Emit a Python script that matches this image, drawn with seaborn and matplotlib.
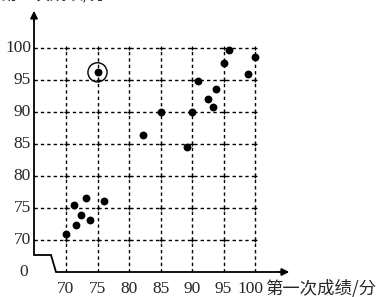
import matplotlib
matplotlib.use("Agg")
import matplotlib.pyplot as plt
import seaborn as sns
import pandas as pd
import numpy as np

first_scores = [70.0, 71.2, 71.6, 72.4, 73.1, 73.8, 76.1, 75.0, 82.2, 85.0,
                89.2, 90.0, 91.0, 92.5, 93.4, 93.8, 95.0, 95.9, 98.9, 100.0]
second_scores = [71.0, 75.5, 72.4, 73.9, 76.5, 73.2, 76.1, 96.2, 86.4, 90.0,
                 84.5, 90.0, 94.8, 92.0, 90.8, 93.6, 97.6, 99.7, 95.9, 98.6]
x_ticks = [70, 75, 80, 85, 90, 95, 100]
y_ticks = [70, 75, 80, 85, 90, 95, 100]
x_label = "第一次成绩/分"
y_label = "第二次成绩/分"
circled = (75.0, 96.2)

sns.set_theme(style="white")
plt.rcParams['font.family'] = ['Liberation Serif', 'Noto Sans CJK SC', 'DejaVu Sans']

fig = plt.figure(figsize=(3.83, 2.97), dpi=100)
ax = fig.add_axes([0, 0, 1, 1])
# data coords mapped to pixels: x px = 66 + (x-70)*6.3 ; y px = 240 - (y-70)*6.4
ax.set_xlim(70 - 66 / 6.3, 70 + 317 / 6.3)
ax.set_ylim(70 - 57 / 6.4, 70 + 240 / 6.4)
ax.axis("off")

y_axis_x = 70 - 32 / 6.3
x_axis_y = 65.0
brk_y = 70 - 15 / 6.4
brk_x = 70 - 15 / 6.3
brk_x2 = 70 - 10 / 6.3
arrow_x = 70 + 226 / 6.3
arrow_y = 70 + 232 / 6.4

# grid
for xv in x_ticks:
    ax.plot([xv, xv], [x_axis_y, 100], color="black", lw=1.0, ls=(0, (2.4, 2.2)))
for yv in y_ticks:
    ax.plot([y_axis_x, 100], [yv, yv], color="black", lw=1.0, ls=(0, (2.4, 2.2)))
gx, gy = np.meshgrid(x_ticks, y_ticks)
ax.scatter(gx.ravel(), gy.ravel(), marker="+", s=12, color="black", lw=0.9)

# broken axes
ax.plot([y_axis_x, y_axis_x, brk_x, brk_x2, arrow_x - 1.0],
        [arrow_y - 1.0, brk_y, brk_y, x_axis_y, x_axis_y], color="black", lw=1.3,
        solid_joinstyle="miter")
ax.annotate("", xy=(arrow_x, x_axis_y), xytext=(arrow_x - 2.5, x_axis_y),
            arrowprops=dict(arrowstyle="-|>", color="black", lw=1.2, mutation_scale=11))
ax.annotate("", xy=(y_axis_x, arrow_y), xytext=(y_axis_x, arrow_y - 2.5),
            arrowprops=dict(arrowstyle="-|>", color="black", lw=1.2, mutation_scale=11))

# points
df = pd.DataFrame({"first": first_scores, "second": second_scores})
sns.scatterplot(data=df, x="first", y="second", ax=ax, color="black",
                s=32, edgecolor="black", linewidth=0, legend=False)
ax.scatter([circled[0]], [circled[1]], s=190, facecolors="none",
           edgecolors="black", linewidths=1.0)

# tick labels
fs = 12.5
for yv in y_ticks:
    ax.text(70 - 35 / 6.3, yv, str(yv), ha="right", va="center", fontsize=fs)
ax.text(70 - 38 / 6.3, x_axis_y, "0", ha="right", va="center", fontsize=fs)
for xv in x_ticks:
    xp = xv - (0.7 if xv == 100 else 0)
    ax.text(xp, 70 - 49 / 6.4, str(xv), ha="center", va="center", fontsize=fs)
ax.text(70 + 199 / 6.3, 70 - 48 / 6.4, x_label, ha="left", va="center", fontsize=12.5,
        family=['Noto Sans CJK SC', 'DejaVu Sans'])
ax.text(70 - 66 / 6.3, 70 + 245 / 6.4, y_label, ha="left", va="center", fontsize=12,
        family=['Noto Sans CJK SC', 'DejaVu Sans'])

fig.savefig("out.png", dpi=100)
